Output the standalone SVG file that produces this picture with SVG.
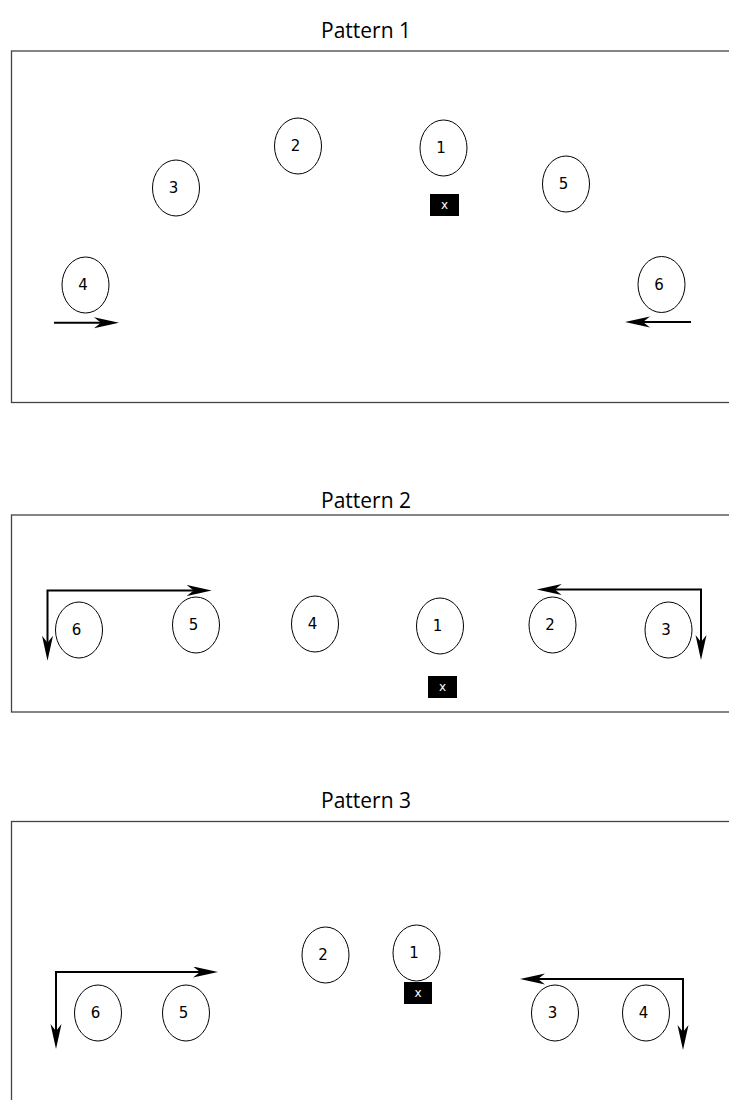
<svg xmlns="http://www.w3.org/2000/svg" width="729" height="1100" viewBox="0 0 729 1100">
  <style>
    .frame { fill: none; stroke: #444; stroke-width: 1.3; }
    .title { font-family: "Open Sans", "Liberation Sans", sans-serif; font-size: 21px; fill: #000; text-anchor: middle; }
    .node ellipse { fill: #fff; stroke: #000; stroke-width: 1; }
    .node text { font-family: "DejaVu Sans", "Liberation Sans", sans-serif; font-size: 15px; fill: #000; text-anchor: middle; dominant-baseline: central; }
    .mark rect { fill: #000; }
    .mark text { font-family: "DejaVu Sans", "Liberation Sans", sans-serif; font-size: 12px; fill: #fff; text-anchor: middle; dominant-baseline: central; }
    .move { fill: none; stroke: #000; stroke-width: 2; }
  </style>
  <defs>
    <marker id="head" markerUnits="userSpaceOnUse" markerWidth="26" markerHeight="12" refX="7" refY="5.5" orient="auto-start-reverse">
      <path d="M0,0 L25,5.5 L0,11 L7,5.5 z" fill="#000"/>
    </marker>
  </defs>

  <rect width="729" height="1100" fill="#fff"/>

  <!-- Pattern 1 -->
  <g id="pattern1">
    <text class="title" x="366" y="38">Pattern 1</text>
    <rect class="frame" x="11.5" y="51" width="800" height="351.5"/>
    <g id="p1-n1" class="node"><ellipse cx="443.5" cy="148" rx="23.5" ry="28"/><text x="441" y="148">1</text></g>
    <g id="p1-n2" class="node"><ellipse cx="298" cy="146" rx="23.5" ry="28"/><text x="295.5" y="146">2</text></g>
    <g id="p1-n3" class="node"><ellipse cx="176" cy="188" rx="23.5" ry="28"/><text x="173.5" y="188">3</text></g>
    <g id="p1-n4" class="node"><ellipse cx="85.5" cy="285" rx="23.5" ry="28"/><text x="83" y="285">4</text></g>
    <g id="p1-n5" class="node"><ellipse cx="566" cy="184" rx="23.5" ry="28"/><text x="563.5" y="184">5</text></g>
    <g id="p1-n6" class="node"><ellipse cx="661.5" cy="284.5" rx="23.5" ry="28"/><text x="659" y="284.5">6</text></g>
    <g id="p1-x" class="mark"><rect x="430" y="194" width="29" height="22"/><text x="444.5" y="205">x</text></g>
  </g>

  <!-- Pattern 2 -->
  <g id="pattern2">
    <text class="title" x="366" y="508">Pattern 2</text>
    <rect class="frame" x="11.5" y="515" width="800" height="197"/>
    <g id="p2-n6" class="node"><ellipse cx="79" cy="630" rx="23.5" ry="28"/><text x="76.5" y="630">6</text></g>
    <g id="p2-n5" class="node"><ellipse cx="196" cy="625" rx="23.5" ry="28"/><text x="193.5" y="625">5</text></g>
    <g id="p2-n4" class="node"><ellipse cx="315" cy="624" rx="23.5" ry="28"/><text x="312.5" y="624">4</text></g>
    <g id="p2-n1" class="node"><ellipse cx="440" cy="626" rx="23.5" ry="28"/><text x="437.5" y="626">1</text></g>
    <g id="p2-n2" class="node"><ellipse cx="552.5" cy="625" rx="23.5" ry="28"/><text x="550" y="625">2</text></g>
    <g id="p2-n3" class="node"><ellipse cx="668.5" cy="630" rx="23.5" ry="28"/><text x="666" y="630">3</text></g>
    <g id="p2-x" class="mark"><rect x="428" y="676" width="29" height="22"/><text x="442.5" y="687">x</text></g>
  </g>

  <!-- Pattern 3 -->
  <g id="pattern3">
    <text class="title" x="366" y="808">Pattern 3</text>
    <rect class="frame" x="11.5" y="821.5" width="800" height="400"/>
    <g id="p3-n2" class="node"><ellipse cx="325.5" cy="955" rx="23.5" ry="28"/><text x="323" y="955">2</text></g>
    <g id="p3-n1" class="node"><ellipse cx="416.5" cy="953" rx="23.5" ry="28"/><text x="414" y="953">1</text></g>
    <g id="p3-n6" class="node"><ellipse cx="98" cy="1013" rx="23.5" ry="28"/><text x="95.5" y="1013">6</text></g>
    <g id="p3-n5" class="node"><ellipse cx="186" cy="1013" rx="23.5" ry="28"/><text x="183.5" y="1013">5</text></g>
    <g id="p3-n3" class="node"><ellipse cx="555" cy="1013" rx="23.5" ry="28"/><text x="552.5" y="1013">3</text></g>
    <g id="p3-n4" class="node"><ellipse cx="646" cy="1013" rx="23.5" ry="28"/><text x="643.5" y="1013">4</text></g>
    <g id="p3-x" class="mark"><rect x="404" y="982" width="28" height="22"/><text x="418" y="993">x</text></g>
  </g>

  <!-- movement arrows -->
  <g id="connectors">
    <path class="move" d="M54,322.7 L101,322.7" marker-end="url(#head)"/>
    <path class="move" d="M691,322 L643,322" marker-end="url(#head)"/>
    <path class="move" d="M47.5,642.7 L47.5,590.5 L193.7,590.5" marker-start="url(#head)" marker-end="url(#head)"/>
    <path class="move" d="M554.7,589.5 L701,589.5 L701,642" marker-start="url(#head)" marker-end="url(#head)"/>
    <path class="move" d="M56,1031 L56,972 L200,972" marker-start="url(#head)" marker-end="url(#head)"/>
    <path class="move" d="M538,979 L683,979 L683,1032" marker-start="url(#head)" marker-end="url(#head)"/>
  </g>
</svg>
